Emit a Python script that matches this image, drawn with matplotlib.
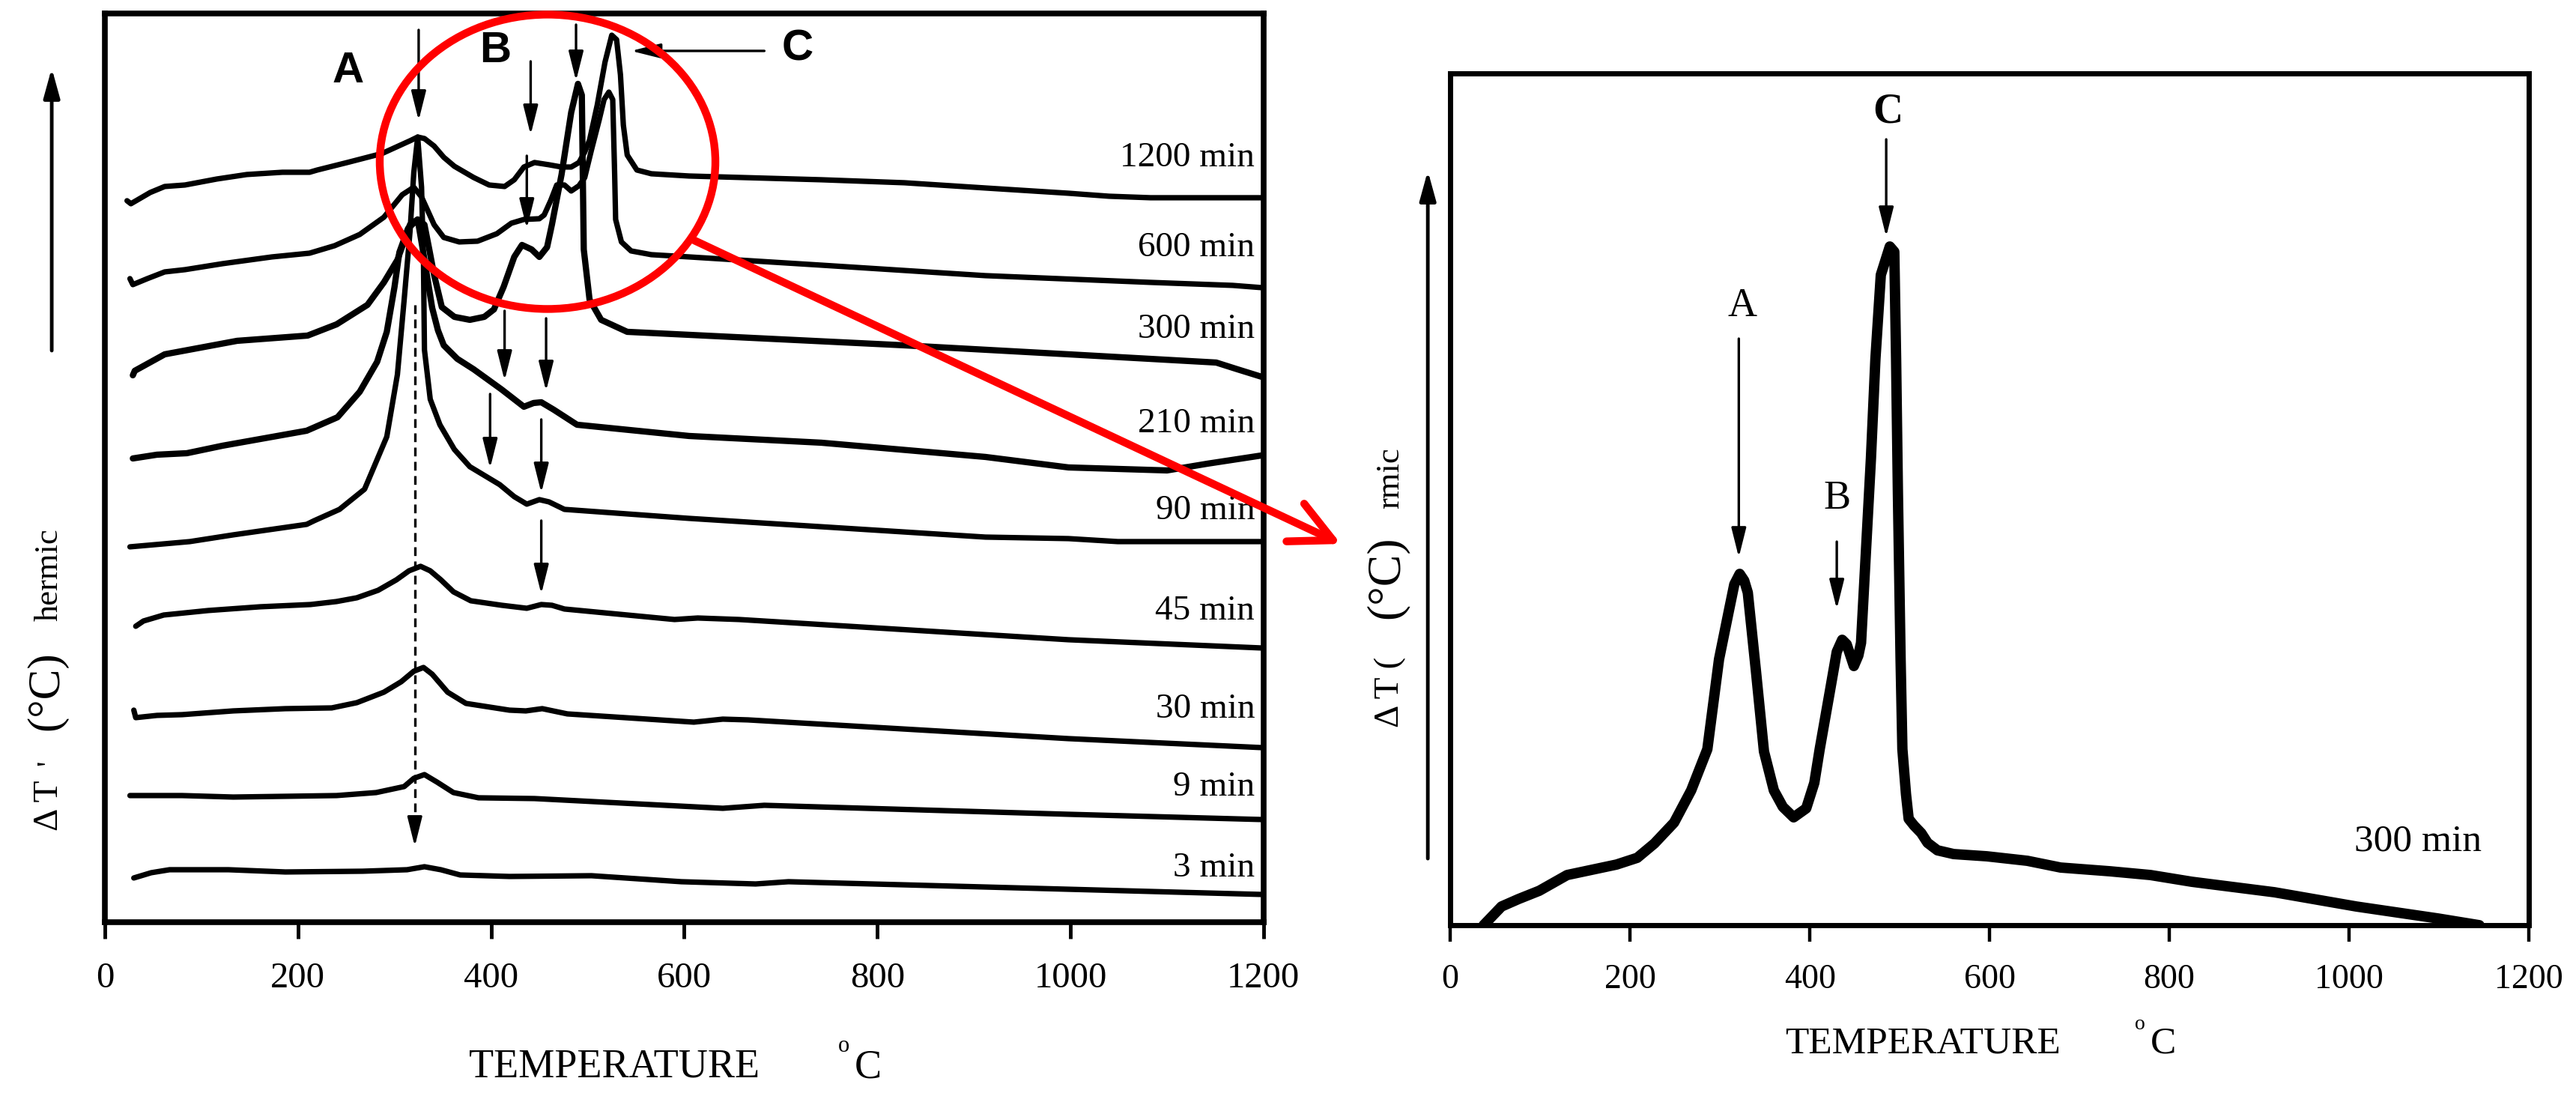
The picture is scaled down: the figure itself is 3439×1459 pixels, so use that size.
import matplotlib
matplotlib.use("Agg")
import matplotlib.pyplot as plt
from matplotlib.patches import Ellipse, ConnectionPatch

plt.rcParams['font.family'] = ['Liberation Serif', 'DejaVu Serif']

# === DTA curves, left panel (temperature in °C, signal height in arbitrary units) ===
t1200 = [23, 27, 47, 62, 83, 116, 147, 184, 212, 220, 251, 287, 316, 324, 331, 341, 351, 362, 382, 398,
         414, 424, 434, 445, 460, 473, 483, 491, 497, 502, 510, 518, 525, 530, 534, 537, 541, 551, 566,
         605, 742, 828, 912, 998, 1040, 1083, 1198]
v1200 = [963, 959, 974, 982, 984, 992, 998, 1001, 1001, 1004, 1014, 1026, 1043, 1048, 1046, 1036, 1021,
         1009, 994, 984, 982, 991, 1008, 1014, 1011, 1008, 1008, 1014, 1028, 1044, 1091, 1148, 1184, 1178,
         1131, 1064, 1024, 1004, 999, 996, 991, 987, 980, 973, 969, 967, 967]

t600 = [26, 29, 44, 62, 83, 122, 173, 212, 238, 264, 289, 308, 320, 328, 334, 341, 351, 367, 386, 406,
        421, 434, 450, 455, 462, 468, 476, 483, 491, 497, 504, 512, 517, 522, 526, 528, 529, 535, 545, 566,
        605, 742, 912, 1083, 1168, 1198]
v600 = [859, 851, 859, 868, 871, 879, 888, 893, 903, 918, 941, 971, 981, 968, 951, 931, 914, 908, 909, 919,
        933, 938, 939, 944, 964, 984, 984, 976, 983, 994, 1031, 1071, 1098, 1108, 1098, 998, 938, 908, 896,
        891, 888, 877, 863, 854, 850, 847]

t300 = [29, 31, 62, 137, 210, 240, 272, 289, 303, 316, 324, 331, 336, 341, 349, 362, 378, 393, 403, 413,
        424, 432, 442, 450, 458, 463, 473, 483, 490, 494, 495, 496, 502, 514, 541, 605, 828, 998, 1151,
        1173, 1198]
v300 = [730, 736, 758, 776, 783, 798, 824, 854, 884, 931, 938, 931, 898, 864, 821, 808, 804, 808, 818, 848,
        888, 904, 898, 888, 901, 931, 998, 1081, 1119, 1104, 998, 898, 831, 804, 788, 784, 770, 758, 747,
        738, 728]

t210 = [29, 54, 85, 122, 209, 241, 264, 282, 292, 300, 305, 314, 324, 329, 334, 339, 345, 351, 365, 382,
        411, 434, 444, 452, 465, 489, 605, 742, 912, 998, 1100, 1142, 1198]
v210 = [619, 624, 626, 636, 656, 674, 708, 748, 788, 848, 894, 926, 938, 900, 860, 820, 790, 770, 752, 738,
        711, 688, 693, 694, 684, 664, 649, 640, 621, 607, 603, 612, 623]

t90 = [26, 88, 133, 209, 217, 243, 269, 292, 303, 310, 316, 320, 324, 328, 330, 331, 337, 347, 362, 378,
       409, 424, 437, 450, 460, 476, 605, 912, 998, 1049, 1198]
v90 = [501, 508, 517, 531, 536, 551, 578, 648, 731, 831, 921, 1001, 1048, 981, 881, 764, 698, 664, 631,
       608, 584, 568, 558, 564, 561, 551, 539, 514, 512, 508, 508]

t45 = [32, 40, 61, 107, 161, 213, 240, 261, 283, 302, 315, 327, 337, 348, 361, 379, 411, 437, 452, 463,
       476, 590, 614, 657, 998, 1198]
v45 = [395, 402, 410, 416, 421, 424, 428, 433, 443, 457, 469, 475, 469, 457, 441, 429, 423, 419, 424, 423,
       418, 404, 406, 404, 377, 366]

t30 = [30, 32, 54, 80, 133, 187, 235, 261, 289, 307, 320, 330, 339, 355, 374, 419, 436, 453, 479, 610,
       640, 666, 998, 1198]
v30 = [283, 273, 276, 277, 282, 285, 286, 293, 307, 321, 335, 340, 331, 307, 292, 283, 282, 285, 278, 267,
       271, 270, 245, 233]

t9 = [26, 80, 133, 187, 240, 281, 310, 320, 331, 344, 361, 387, 445, 640, 683, 998, 1198]
v9 = [169, 169, 167, 168, 169, 173, 181, 192, 197, 187, 173, 166, 165, 152, 156, 144, 137]

t3 = [30, 48, 67, 128, 187, 267, 313, 331, 348, 368, 419, 504, 597, 674, 708, 1198]
v3 = [59, 66, 70, 70, 67, 68, 70, 74, 70, 63, 61, 62, 54, 51, 54, 37]

curve_t = [t1200, t600, t300, t210, t90, t45, t30, t9, t3]
curve_v = [v1200, v600, v300, v210, v90, v45, v30, v9, v3]
curve_names = ["1200 min", "600 min", "300 min", "210 min", "90 min", "45 min", "30 min", "9 min", "3 min"]
name_v = [1020, 900, 791, 665, 549, 415, 284, 180, 72]

# === right panel: 300 min curve ===
tR = [37, 57, 76, 99, 130, 185, 208, 227, 249, 268, 286, 299, 310, 316, 322, 327, 331, 340, 349, 360,
      370, 382, 396, 405, 411, 422, 430, 436, 441, 449, 454, 457, 462, 468, 473, 479, 489, 494, 496, 498,
      501, 503, 507, 510, 516, 524, 531, 542, 560, 597, 642, 679, 734, 779, 825, 917, 1008, 1099, 1145]
vR = [0, 25, 35, 46, 67, 81, 90, 109, 137, 180, 235, 355, 420, 455, 469, 460, 444, 340, 232, 180,
      158, 144, 156, 190, 235, 310, 365, 381, 375, 346, 360, 377, 489, 623, 756, 868, 906, 899, 756, 578,
      355, 235, 175, 142, 133, 123, 110, 100, 95, 92, 86, 77, 72, 67, 58, 44, 25, 9, 0]

xticks = [0, 200, 400, 600, 800, 1000, 1200]

# peak markers (temperature, tail height, tip height)
arrows_left = [(325, 1191, 1070), (441, 1149, 1051), (488, 1198, 1123), (437, 1023, 926),
               (414, 816, 723), (457, 806, 709), (399, 705, 606), (452, 671, 573), (452, 536, 438)]
arrows_right = [(321, 783, 491), (430, 512, 422), (485, 1049, 919)]

# === figure ===
fig = plt.figure(figsize=(34.39, 14.59), dpi=100)
ax1 = fig.add_axes([0.0407, 0.1563, 0.4498, 0.8314])
ax2 = fig.add_axes([0.5630, 0.1535, 0.4187, 0.7793])

head = dict(arrowstyle='-|>,head_length=0.8,head_width=0.2', mutation_scale=30,
            color='k', lw=2.4, shrinkA=0, shrinkB=0)

# --- left panel ---
for t, v, nm, nv in zip(curve_t, curve_v, curve_names, name_v):
    w = 6.0 if nm in ("300 min", "210 min") else 5.2
    ax1.plot(t, v, color='k', lw=w, solid_capstyle='round', solid_joinstyle='round')
    ax1.text(1191, nv, nm, ha='right', va='center', fontsize=34)

for tx, v0, v1 in arrows_left:
    ax1.annotate('', xy=(tx, v1), xytext=(tx, v0), arrowprops=head)
ax1.annotate('', xy=(545, 1163), xytext=(683, 1163), arrowprops=head)

# dashed guide at peak A
ax1.plot([321, 321], [824, 128], color='k', lw=2.4, ls=(0, (3.5, 2.2)))
ax1.annotate('', xy=(321, 101), xytext=(321, 140), arrowprops=head)

for lab, tx, ty in [("A", 252, 1136), ("B", 404, 1163), ("C", 717, 1165)]:
    ax1.text(tx, ty, lab, ha='center', va='center', fontsize=42, fontweight='bold',
             family=['Liberation Sans', 'DejaVu Sans'])

ax1.add_patch(Ellipse((458.5, 1015), 347.6, 393, fill=False, ec='#ff0000', lw=7.5,
                      zorder=5, clip_on=False))

ax1.annotate('', xy=(-55, 1140), xytext=(-55, 763), annotation_clip=False,
             arrowprops=dict(arrowstyle='-|>,head_length=0.8,head_width=0.22', mutation_scale=30,
                             color='k', lw=3.5, shrinkA=0, shrinkB=0))

ax1.set_xlim(0, 1200)
ax1.set_ylim(0, 1213)
ax1.set_yticks([])
ax1.set_xticks(xticks)
ax1.tick_params(axis='x', direction='out', length=16, width=3.5, labelsize=35, pad=22)
for s in ax1.spines.values():
    s.set_linewidth(5.5)

# --- right panel ---
ax2.plot(tR, vR, color='k', lw=10, solid_capstyle='round', solid_joinstyle='round')
for tx, v0, v1 in arrows_right:
    ax2.annotate('', xy=(tx, v1), xytext=(tx, v0), arrowprops=head)
ax2.text(325, 826, "A", ha='center', va='center', fontsize=39)
ax2.text(430, 569, "B", ha='center', va='center', fontsize=39)
ax2.text(487, 1086, "C", ha='center', va='center', fontsize=40, fontweight='bold')
ax2.text(1077, 112, "300 min", ha='center', va='center', fontsize=37)

ax2.annotate('', xy=(-25, 1007), xytext=(-25, 89), annotation_clip=False,
             arrowprops=dict(arrowstyle='-|>,head_length=0.8,head_width=0.22', mutation_scale=30,
                             color='k', lw=3.5, shrinkA=0, shrinkB=0))

ax2.set_xlim(0, 1200)
ax2.set_ylim(0, 1137)
ax2.set_yticks([])
ax2.set_xticks(xticks)
ax2.tick_params(axis='x', direction='out', length=16, width=3.2, labelsize=33, pad=21)
for s in ax2.spines.values():
    s.set_linewidth(5)

# --- red zoom connector ---
con = ConnectionPatch(xyA=(610.5, 910), coordsA=ax1.transData,
                      xyB=(-121.7, 509), coordsB=ax2.transData,
                      arrowstyle='->,head_length=0.4,head_width=0.2', mutation_scale=100,
                      color='#ff0000', lw=7.5, capstyle='round', joinstyle='round', zorder=6)
fig.add_artist(con)

# --- axis titles ---
fig.text(0.2384, 0.0240, "TEMPERATURE", ha='center', va='center', fontsize=39)
fig.text(0.3277, 0.0425, "o", ha='center', va='center', fontsize=22)
fig.text(0.3370, 0.0233, "C", ha='center', va='center', fontsize=39)
fig.text(0.7464, 0.0452, "TEMPERATURE", ha='center', va='center', fontsize=37)
fig.text(0.8308, 0.0624, "o", ha='center', va='center', fontsize=20)
fig.text(0.8398, 0.0452, "C", ha='center', va='center', fontsize=37)

yl = dict(rotation=90, rotation_mode='anchor', ha='center', va='baseline')
fig.text(0.0224, 0.2632, "Δ T", fontsize=34, **yl)
fig.text(0.0224, 0.3023, "'", fontsize=30, **yl)
fig.text(0.0224, 0.3681, "(°C)", fontsize=44, **yl)
fig.text(0.0224, 0.4743, "hermic", fontsize=32, **yl)
fig.text(0.5429, 0.3667, "Δ T (", fontsize=34, **yl)
fig.text(0.5429, 0.4716, "(°C)", fontsize=46, **yl)
fig.text(0.5429, 0.5627, "rmic", fontsize=32, **yl)

fig.savefig("out.png", dpi=100, facecolor='white')
